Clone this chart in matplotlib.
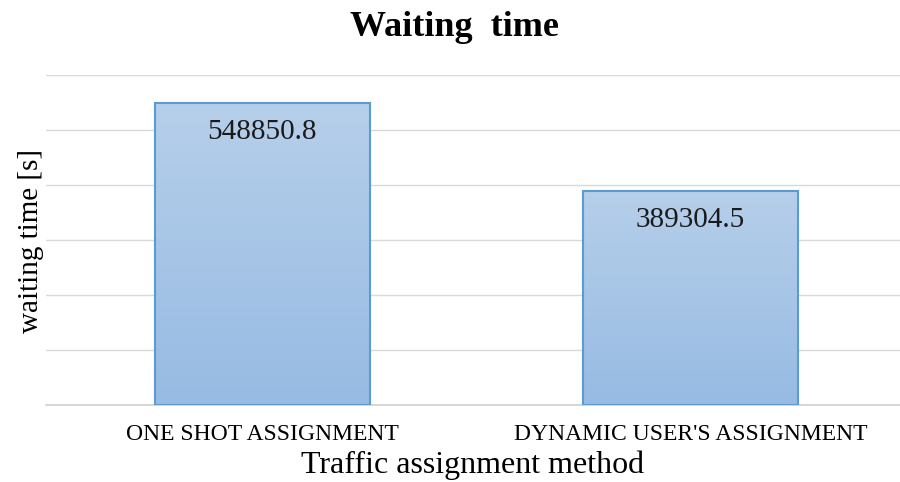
import numpy as np
import matplotlib.pyplot as plt
from matplotlib.colors import LinearSegmentedColormap

# data
methods = ["ONE SHOT ASSIGNMENT", "DYNAMIC USER'S ASSIGNMENT"]
waiting_s = [548850.8, 389304.5]

plt.rcParams["font.family"] = ["Liberation Serif", "DejaVu Serif"]

fig = plt.figure(figsize=(9, 4.82), dpi=100)
ax = fig.add_axes([0.051, 0.16, 0.949, 0.6846])

x = np.arange(len(methods))
bars = ax.bar(x, waiting_s, width=0.502, facecolor="none",
              edgecolor="#5b9bd5", linewidth=1.5, zorder=3)

# vertical gradient fill, light on top, darker at the base
cmap = LinearSegmentedColormap.from_list("bar", ["#97bbe3", "#b6cfea"])
grad = np.linspace(0, 1, 256).reshape(-1, 1)
for b in bars:
    x0, w, h = b.get_x(), b.get_width(), b.get_height()
    im = ax.imshow(grad, cmap=cmap, origin="lower", aspect="auto",
                   extent=(x0, x0 + w, 0, h), zorder=2)
    im.set_clip_path(b)

for xi, v in zip(x, waiting_s):
    ax.annotate(f"{v:.1f}", (xi, v), xytext=(0, -21), textcoords="offset points",
                ha="center", va="center", fontsize=21, color="#1a1a1a", zorder=4)

ax.set_xlim(-0.506, 1.49)
ax.set_ylim(0, 600000)
ax.set_yticks(np.arange(0, 600001, 100000))
ax.yaxis.grid(True, color="#d9d9d9", linewidth=1)
ax.axhline(0, color="#d0d0d0", linewidth=1.2, clip_on=False, zorder=1)
ax.set_axisbelow(True)
ax.tick_params(axis="y", left=False, labelleft=False)
ax.tick_params(axis="x", bottom=False, pad=10, labelsize=17)
ax.set_xticks(x)
ax.set_xticklabels(methods)
for s in ax.spines.values():
    s.set_visible(False)

ax.set_xlabel("Traffic assignment method", fontsize=23, labelpad=4)
fig.text(31 / 900, 0.5, "waiting time [s]", rotation=90, ha="center",
         va="center", fontsize=21)
fig.text(0.505, 0.942, "Waiting  time", ha="center", va="center",
         fontsize=26, fontweight="bold")

fig.savefig("out.png", dpi=100)
